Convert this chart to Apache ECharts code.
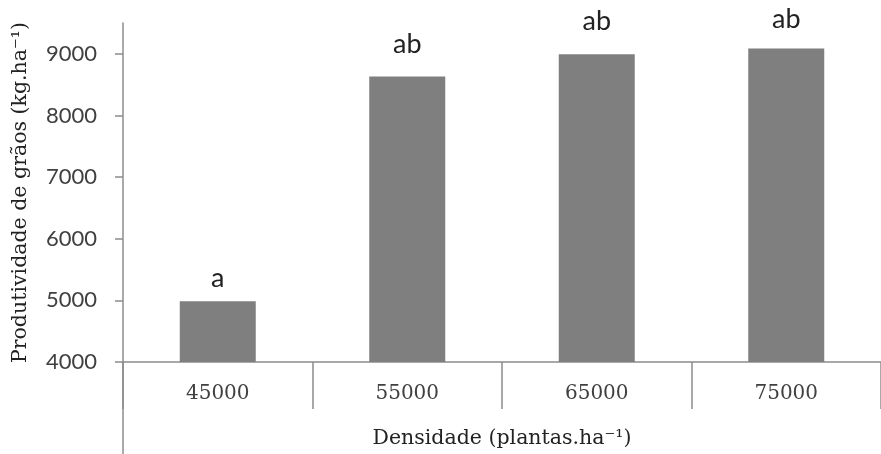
<!DOCTYPE html>
<html>
<head>
<meta charset="utf-8">
<script src="https://cdn.jsdelivr.net/npm/echarts@6/dist/echarts.min.js"></script>
<style>
    html, body { margin: 0; padding: 0; background: #fff; }
    #chart { width: 881px; height: 454px; }
</style>
</head>
<body>
<div id="chart"></div>
<script>
    // densidade (plantas/ha) e produtividade (kg/ha)
    var categories = ['45000', '55000', '65000', '75000'];
    var values = [4985, 8630, 8995, 9085];
    var letters = ['a', 'ab', 'ab', 'ab'];

    var axisColor = '#8c8c8c';
    var serif = 'DejaVu Serif';
    // afastamento das letras acima de cada barra (como na figura original)
    var labelGap = [9, 19, 19, 16];

    var myChart = echarts.init(document.getElementById('chart'));

    var barData = values.map(function(v, i) {
        return { value: v, label: { distance: labelGap[i] } };
    });

    var option = {
        animation: false,
        grid: { left: 123, right: -11, top: 23, bottom: 91 },
        xAxis: {
            type: 'category',
            data: categories,
            name: 'Densidade (plantas.ha\u207B\u00B9)',
            nameLocation: 'middle',
            nameGap: 66,
            nameTextStyle: { fontFamily: serif, fontSize: 20.5, color: '#222' },
            axisLine: { lineStyle: { color: axisColor, width: 1.5 } },
            axisTick: { show: true, length: 47, lineStyle: { color: axisColor, width: 1.5 } },
            axisLabel: { fontFamily: serif, fontSize: 20, color: '#404040', margin: 22 }
        },
        yAxis: {
            type: 'value',
            min: 4000,
            max: 9500,
            interval: 1000,
            name: 'Produtividade de grãos (kg.ha\u207B\u00B9)',
            nameLocation: 'middle',
            nameGap: 92,
            nameTextStyle: { fontFamily: serif, fontSize: 20.5, color: '#222' },
            splitLine: { show: false },
            axisLine: { show: true, lineStyle: { color: axisColor, width: 1.5 } },
            axisTick: { show: true, length: 8, lineStyle: { color: axisColor, width: 1.5 } },
            axisLabel: {
                fontFamily: 'Lato',
                fontSize: 22,
                color: '#404040',
                margin: 26,
                showMaxLabel: false,
                formatter: function(v) {
                    return String(v);
                }
            }
        },
        series: [{
            type: 'bar',
            data: barData,
            barWidth: 76,
            itemStyle: { color: '#7f7f7f' },
            label: {
                show: true,
                position: 'top',
                fontFamily: 'Lato',
                fontSize: 27,
                color: '#222',
                formatter: function(p) {
                    return letters[p.dataIndex];
                }
            }
        }]
    };

    myChart.setOption(option);

    // o eixo y continua abaixo do eixo x ate o fim da figura
    var base = myChart.convertToPixel({ gridIndex: 0 }, [0, 4000]);
    myChart.setOption({
        graphic: [{
            type: 'line',
            shape: { x1: 123, y1: base[1], x2: 123, y2: 454 },
            style: { stroke: axisColor, lineWidth: 1.5 }
        }]
    });
</script>
</body>
</html>
